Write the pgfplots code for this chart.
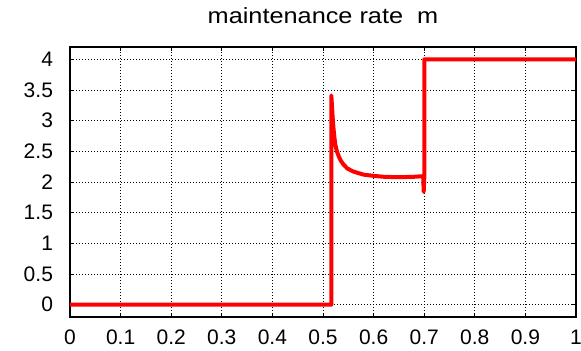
\documentclass[border=0pt]{standalone}
\usepackage{pgfplots}
\pgfplotsset{compat=1.18}
\usepackage{fontspec}
\setmainfont{Liberation Sans}
\begin{document}
\begin{tikzpicture}
\begin{axis}[
  name=ax,
  scale only axis,
  width=253pt, height=135pt,
  xmin=0, xmax=1, ymin=-0.2, ymax=4.2,
  xtick={0,0.1,...,1.01},
  ytick={0,0.5,...,4.01},
  /pgf/number format/assume math mode=true,
  tick label style={font=\fontsize{10.5}{12}\selectfont},
  yticklabel style={xshift=-5pt},
  xticklabel style={yshift=-3pt},
  title={maintenance rate\ \ m},
  title style={font=\fontsize{11}{12}\selectfont, xscale=1.15, yshift=2pt},
  grid=major,
  major grid style={black, line width=0.35pt, dash pattern=on 0.5pt off 1pt},
  tick align=inside,
  major tick length=2pt,
  tick style={black, line width=0.4pt},
  axis line style={black, line width=0.6pt},
]
\addplot[red, line width=2pt, line join=round] coordinates {
  (0,0) (0.5164,0) (0.5164,3.41) (0.518,3.2) (0.5195,3.0) (0.521,2.85)
  (0.524,2.62) (0.5275,2.50) (0.531,2.42) (0.535,2.35) (0.540,2.29)
  (0.548,2.22) (0.56,2.17) (0.58,2.12) (0.60,2.10) (0.62,2.085)
  (0.64,2.08) (0.66,2.08) (0.68,2.085) (0.698,2.095) (0.699,1.84)
  (0.7003,2.1) (0.7003,4) (1,4)
};
\end{axis}
\pgfresetboundingbox
\path ([shift={(-35pt,-16.65pt)}]ax.south west) rectangle ([shift={(2.5pt,23.5pt)}]ax.north east);
\end{tikzpicture}
\end{document}
